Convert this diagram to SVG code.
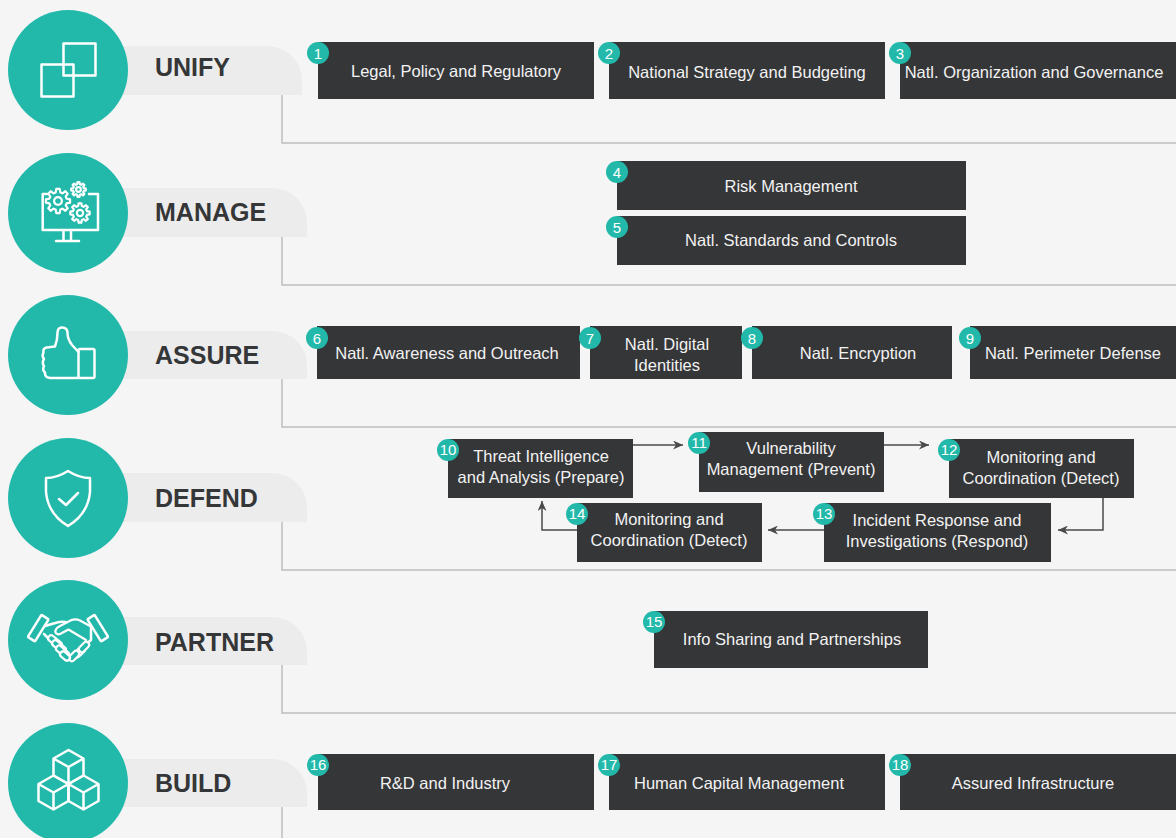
<svg xmlns="http://www.w3.org/2000/svg" xmlns:xlink="http://www.w3.org/1999/xlink" width="1176" height="838" viewBox="0 0 1176 838">
<style>
.bg{fill:#f5f5f5}
.circ{fill:#23b9aa}
.tab{fill:#ececec}
.title{font-family:"Liberation Sans",Arial,sans-serif;font-weight:bold;font-size:25px;fill:#353638}
.box{fill:#353638}
.bt{font-family:"Liberation Sans",Arial,sans-serif;font-size:16.5px;fill:#f2f2f2;text-anchor:middle}
.badge{fill:#23b9aa}
.bn{font-family:"Liberation Sans",Arial,sans-serif;font-size:15px;fill:#ffffff;text-anchor:middle}
.br{fill:none;stroke:#bdbdbd;stroke-width:1.5}
.ic{fill:none;stroke:#ffffff;stroke-width:2.5;stroke-linejoin:round;stroke-linecap:round}
.icf{fill:#23b9aa;stroke:#ffffff;stroke-linejoin:round}
.icm{fill:#23b9aa;stroke:#ffffff;stroke-width:2.2;stroke-linejoin:round;stroke-linecap:round}
.ar{fill:none;stroke:#4a4a4a;stroke-width:1.5;marker-end:url(#ah)}
</style>
<defs>
<marker id="ah" markerUnits="userSpaceOnUse" markerWidth="11" markerHeight="9" refX="10" refY="4.5" orient="auto">
<path d="M0,0 L10,4.5 L0,9 L3,4.5 Z" fill="#4a4a4a"/>
</marker>
<path id="gear" d="M7.05,-1.89 L9.9,-1.39 L9.9,1.39 L7.05,1.89 L6.32,3.65 L7.99,6.02 L6.02,7.99 L3.65,6.32 L1.89,7.05 L1.39,9.9 L-1.39,9.9 L-1.89,7.05 L-3.65,6.32 L-6.02,7.99 L-7.99,6.02 L-6.32,3.65 L-7.05,1.89 L-9.9,1.39 L-9.9,-1.39 L-7.05,-1.89 L-6.32,-3.65 L-7.99,-6.02 L-6.02,-7.99 L-3.65,-6.32 L-1.89,-7.05 L-1.39,-9.9 L1.39,-9.9 L1.89,-7.05 L3.65,-6.32 L6.02,-7.99 L7.99,-6.02 L6.32,-3.65 Z M3.2,0 A3.2,3.2 0 1 0 -3.2,0 A3.2,3.2 0 1 0 3.2,0 Z"/>
</defs>
<rect class="bg" x="0" y="0" width="1176" height="838"/>

<g id="connectors">
<path class="br" d="M282 95 V143 H1176"/>
<path class="br" d="M282 237 V285 H1176"/>
<path class="br" d="M282 379 V427 H1176"/>
<path class="br" d="M282 522 V570 H1176"/>
<path class="br" d="M282 665 V713 H1176"/>
<path class="br" d="M282 807 V838"/>
<path class="ar" d="M633 445 H683"/>
<path class="ar" d="M884 445 H929"/>
<path class="ar" d="M1103 498 V530 H1058"/>
<path class="ar" d="M824 530 H768"/>
<path class="ar" d="M577 530 H542 V501"/>
</g>

<g id="unify">
<path class="tab" d="M100 46 H267 A35 34 0 0 1 302 80 V95 H100 Z"/>
<circle class="circ" cx="68" cy="70" r="60"/>
<rect class="ic" x="63.5" y="43.5" width="32" height="32" stroke-width="3"/>
<rect class="ic" x="41.5" y="64.5" width="32" height="32" stroke-width="3"/>
<text class="title" x="155" y="76">UNIFY</text>
</g>

<g id="manage">
<path class="tab" d="M100 188 H272 A35 34 0 0 1 307 222 V237 H100 Z"/>
<circle class="circ" cx="68" cy="213" r="60"/>
<path class="ic" stroke-width="2.2" d="M47 194 H42.7 V230 H98 V194 H89 M63.5 230 V240 M71 230 V240 M56 241 H79"/>
<use xlink:href="#gear" class="icf" transform="translate(58 201) scale(1.22)" stroke-width="1.8"/>
<use xlink:href="#gear" class="icf" transform="translate(78.5 189.5) scale(0.74)" stroke-width="2.9"/>
<use xlink:href="#gear" class="icf" transform="translate(80 213) scale(0.98)" stroke-width="2.2"/>
<text class="title" x="155" y="221">MANAGE</text>
</g>

<g id="assure">
<path class="tab" d="M100 331 H272 A35 34 0 0 1 307 365 V379 H100 Z"/>
<circle class="circ" cx="68" cy="355" r="60"/>
<rect class="ic" x="78.5" y="349" width="16" height="29" rx="1.5"/>
<path class="ic" d="M78.5 352 L72 345 Q67.5 339 67.5 333 Q67.5 327.5 62 327.5 Q57.5 327.5 57.5 333 Q57.5 340 55 346.5 L46.5 347.5 Q42.5 348.5 43.5 352.5 Q41.5 356 44 359 Q41.5 362.5 44 366 Q42 370 45 372.5 Q44.5 377.5 50 378 L78.5 378"/>
<text class="title" x="155" y="364">ASSURE</text>
</g>

<g id="defend">
<path class="tab" d="M100 473 H272 A35 34 0 0 1 307 507 V522 H100 Z"/>
<circle class="circ" cx="68" cy="498" r="60"/>
<path class="ic" d="M68 471 Q57 478 46 478 L46 492 Q48 514 68 526 Q88 514 90 492 L90 478 Q79 478 68 471 Z"/>
<path class="ic" d="M59 499 L66 505 L78 493"/>
<text class="title" x="155" y="507">DEFEND</text>
</g>

<g id="partner">
<path class="tab" d="M100 617 H272 A35 34 0 0 1 307 651 V665 H100 Z"/>
<circle class="circ" cx="68" cy="640" r="60"/>
<path class="ic" stroke-width="2.2" d="M45 626 L57 622.5 Q63 621 68 623 M44 634 L50 640 M91 627 L91 640 L85 645"/>
<rect class="icm" x="73" y="649" width="13" height="6" rx="3" transform="rotate(-45 79.5 652)"/>
<rect class="icm" x="78" y="644" width="12" height="6" rx="3" transform="rotate(-45 84 647)"/>
<rect class="icm" x="68" y="653" width="12" height="6" rx="3" transform="rotate(-45 74 656)"/>
<rect class="icm" x="47" y="638.5" width="16" height="6" rx="3" transform="rotate(40 55 641.5)"/>
<rect class="icm" x="51" y="643.5" width="16" height="6" rx="3" transform="rotate(40 59 646.5)"/>
<rect class="icm" x="55" y="648.5" width="15" height="6" rx="3" transform="rotate(40 62.5 651.5)"/>
<rect class="icm" x="59.5" y="653" width="11" height="6" rx="3" transform="rotate(40 65 656)"/>
<path class="icm" d="M90 626 L80 620.5 Q76 618.5 71.5 620 L60 626 Q54.5 629 55.5 632.5 Q57 635.5 61 633.5 L68.5 629.5 L86 640"/>
<rect class="ic" x="34" y="615" width="8.5" height="26" rx="1" transform="rotate(32 38 628)" stroke-width="2.2"/>
<rect class="ic" x="93.5" y="615" width="8.5" height="26" rx="1" transform="rotate(-32 98 628)" stroke-width="2.2"/>
<text class="title" x="155" y="651">PARTNER</text>
</g>

<g id="build">
<path class="tab" d="M100 759 H272 A35 34 0 0 1 307 793 V807 H100 Z"/>
<circle class="circ" cx="68" cy="783" r="60"/>
<path class="ic" stroke-width="2.4" d="M68.5 750 L83.5 758.5 V775.5 L68.5 784 L53.5 775.5 V758.5 Z M53.5 758.5 L68.5 767 L83.5 758.5 M68.5 767 V784"/>
<path class="ic" stroke-width="2.4" d="M53.5 775.5 L68.5 784 V801 L53.5 809.5 L38.5 801 V784 Z M38.5 784 L53.5 792.5 L68.5 784 M53.5 792.5 V809.5"/>
<path class="ic" stroke-width="2.4" d="M83.5 775.5 L98.5 784 V801 L83.5 809.5 L68.5 801 V784 Z M68.5 784 L83.5 792.5 L98.5 784 M83.5 792.5 V809.5"/>
<text class="title" x="155" y="792">BUILD</text>
</g>

<g id="n1"><rect class="box" x="318" y="42" width="276" height="57"/><text class="bt" x="456" y="77">Legal, Policy and Regulatory</text><circle class="badge" cx="318" cy="53" r="11"/><text class="bn" x="318" y="58.5">1</text></g>
<g id="n2"><rect class="box" x="609" y="42" width="276" height="57"/><text class="bt" x="747" y="78">National Strategy and Budgeting</text><circle class="badge" cx="609" cy="53" r="11"/><text class="bn" x="609" y="58.5">2</text></g>
<g id="n3"><rect class="box" x="900" y="42" width="280" height="57"/><text class="bt" x="1034" y="78">Natl. Organization and Governance</text><circle class="badge" cx="900" cy="53" r="11"/><text class="bn" x="900" y="58.5">3</text></g>

<g id="n4"><rect class="box" x="617" y="161" width="349" height="49"/><text class="bt" x="791" y="192">Risk Management</text><circle class="badge" cx="617" cy="172" r="11"/><text class="bn" x="617" y="177.5">4</text></g>
<g id="n5"><rect class="box" x="617" y="216" width="349" height="49"/><text class="bt" x="791" y="246">Natl. Standards and Controls</text><circle class="badge" cx="617" cy="227" r="11"/><text class="bn" x="617" y="232.5">5</text></g>

<g id="n6"><rect class="box" x="317" y="326" width="263" height="53"/><text class="bt" x="447" y="359">Natl. Awareness and Outreach</text><circle class="badge" cx="317" cy="338" r="11"/><text class="bn" x="317" y="343.5">6</text></g>
<g id="n7"><rect class="box" x="590" y="326" width="152" height="53"/><text class="bt" x="667" y="350">Natl. Digital</text><text class="bt" x="667" y="371">Identities</text><circle class="badge" cx="590" cy="338" r="11"/><text class="bn" x="590" y="343.5">7</text></g>
<g id="n8"><rect class="box" x="752" y="326" width="200" height="53"/><text class="bt" x="858" y="359">Natl. Encryption</text><circle class="badge" cx="752" cy="338" r="11"/><text class="bn" x="752" y="343.5">8</text></g>
<g id="n9"><rect class="box" x="970" y="326" width="210" height="53"/><text class="bt" x="1073" y="359">Natl. Perimeter Defense</text><circle class="badge" cx="970" cy="338" r="11"/><text class="bn" x="970" y="343.5">9</text></g>

<g id="n10"><rect class="box" x="448" y="439" width="185" height="59"/><text class="bt" x="541" y="462">Threat Intelligence</text><text class="bt" x="541" y="483">and Analysis (Prepare)</text><circle class="badge" cx="448" cy="450" r="11"/><text class="bn" x="448" y="455" font-size="14">10</text></g>
<g id="n11"><rect class="box" x="699" y="432" width="185" height="60"/><text class="bt" x="791" y="454">Vulnerability</text><text class="bt" x="791" y="475">Management (Prevent)</text><circle class="badge" cx="699" cy="443" r="11"/><text class="bn" x="699" y="448" font-size="14">11</text></g>
<g id="n12"><rect class="box" x="949" y="439" width="185" height="59"/><text class="bt" x="1041" y="463">Monitoring and</text><text class="bt" x="1041" y="484">Coordination (Detect)</text><circle class="badge" cx="949" cy="450" r="11"/><text class="bn" x="949" y="455" font-size="14">12</text></g>
<g id="n13"><rect class="box" x="824" y="503" width="227" height="59"/><text class="bt" x="937" y="526">Incident Response and</text><text class="bt" x="937" y="547">Investigations (Respond)</text><circle class="badge" cx="824" cy="514" r="11"/><text class="bn" x="824" y="519" font-size="14">13</text></g>
<g id="n14"><rect class="box" x="577" y="503" width="185" height="59"/><text class="bt" x="669" y="525">Monitoring and</text><text class="bt" x="669" y="546">Coordination (Detect)</text><circle class="badge" cx="577" cy="514" r="11"/><text class="bn" x="577" y="519" font-size="14">14</text></g>

<g id="n15"><rect class="box" x="654" y="611" width="274" height="57"/><text class="bt" x="792" y="645">Info Sharing and Partnerships</text><circle class="badge" cx="654" cy="622" r="11"/><text class="bn" x="654" y="627" font-size="14">15</text></g>

<g id="n16"><rect class="box" x="318" y="754" width="276" height="56"/><text class="bt" x="445" y="789">R&amp;D and Industry</text><circle class="badge" cx="318" cy="765" r="11"/><text class="bn" x="318" y="770" font-size="14">16</text></g>
<g id="n17"><rect class="box" x="609" y="754" width="276" height="56"/><text class="bt" x="739" y="789">Human Capital Management</text><circle class="badge" cx="609" cy="765" r="11"/><text class="bn" x="609" y="770" font-size="14">17</text></g>
<g id="n18"><rect class="box" x="900" y="754" width="280" height="56"/><text class="bt" x="1033" y="789">Assured Infrastructure</text><circle class="badge" cx="900" cy="765" r="11"/><text class="bn" x="900" y="770" font-size="14">18</text></g>
</svg>
